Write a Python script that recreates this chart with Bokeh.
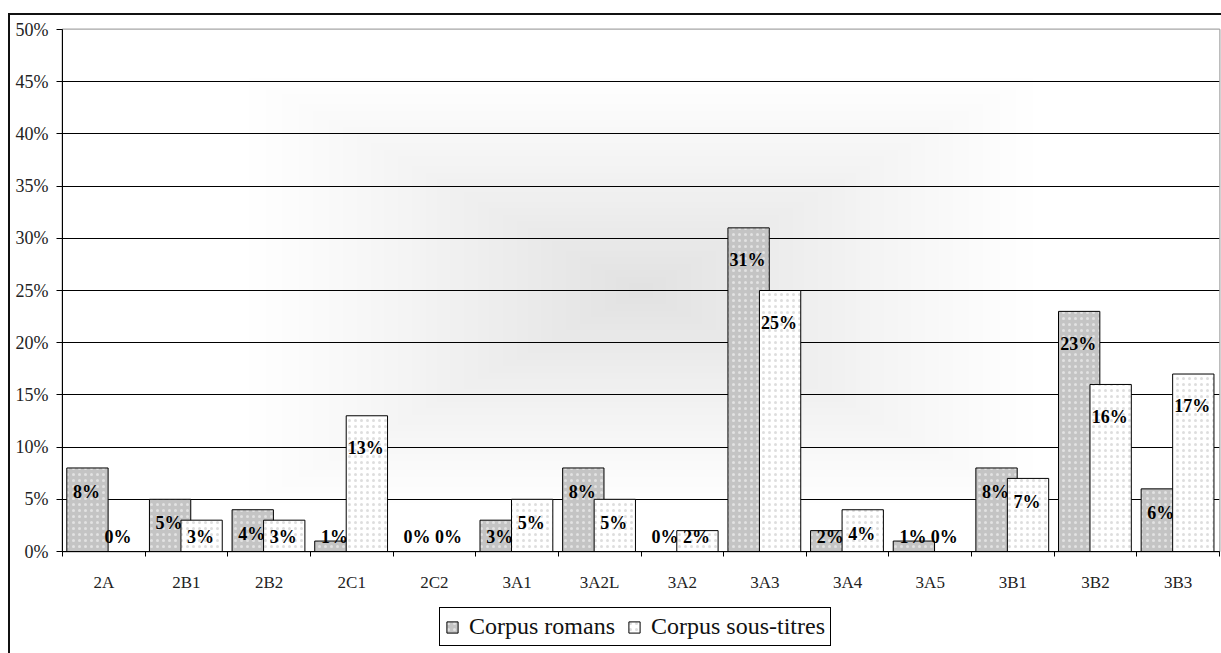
import numpy as np
from bokeh.plotting import figure
from bokeh.layouts import column
from bokeh.models import (Range1d, FixedTicker, PrintfTickFormatter, Legend, LegendItem,
                          ColumnDataSource, LabelSet)
from bokeh.embed import file_html
from bokeh.resources import INLINE

# ---------------- data ----------------
categories = ["2A", "2B1", "2B2", "2C1", "2C2", "3A1", "3A2L", "3A2",
              "3A3", "3A4", "3A5", "3B1", "3B2", "3B3"]
romans = [8, 5, 4, 1, 0, 3, 8, 0, 31, 2, 1, 8, 23, 6]
soustitres = [0, 3, 3, 13, 0, 5, 5, 2, 25, 4, 0, 7, 16, 17]
series_names = ["Corpus romans", "Corpus sous-titres"]
y_ticks = [0, 5, 10, 15, 20, 25, 30, 35, 40, 45, 50]

FONT = "Liberation Serif"
n = len(categories)
idx = np.arange(n)
ymax = y_ticks[-1]

STYLE_R = dict(fill_color="#c4c4c4", line_color="black", line_width=1,
               hatch_pattern="dot", hatch_color="white", hatch_scale=6,
               hatch_weight=0.7, hatch_alpha=0.5)
STYLE_S = dict(fill_color="white", line_color="black", line_width=1,
               hatch_pattern="dot", hatch_color="#c8c8c8", hatch_scale=6,
               hatch_weight=0.7, hatch_alpha=0.6)


def label_pos(vals):
    v = np.asarray(vals, dtype=float)
    off = np.where(v >= 10, 3.1, 2.3)
    return np.maximum(v - off, 1.4)


src = ColumnDataSource(dict(
    cat=categories,
    xr=idx + 0.302,
    xs=idx + 0.683,
    romans=romans,
    soustitres=soustitres,
    lr=label_pos(romans),
    ls=label_pos(soustitres),
    tr=[f"{v}%" for v in romans],
    ts=[f"{v}%" for v in soustitres],
))

p = figure(width=1211, height=588,
           x_range=Range1d(0, n), y_range=Range1d(0, ymax),
           output_backend="svg", toolbar_location=None,
           min_border_left=52, min_border_right=2,
           min_border_top=14, min_border_bottom=52,
           background_fill_color="white", border_fill_color="white")

# background gradient (rectangular, from centre)
H, W = 160, 420
xs_g = np.linspace(0, n, W)
ys_g = np.linspace(0, ymax, H)
X, Y = np.meshgrid(xs_g, ys_g)
dx = np.abs(X - n / 2) * 82.1
dy = np.abs(Y - ymax * 0.5) * 10.44
t = np.clip(1 - np.maximum(dx / 390.0, dy / 215.0), 0, 1)
t = t ** 1.1
g = (255 - 29 * t).astype(np.uint8)
img = np.empty((H, W), dtype=np.uint32)
view = img.view(dtype=np.uint8).reshape((H, W, 4))
view[..., 0] = g
view[..., 1] = g
view[..., 2] = g
view[..., 3] = 255
p.image_rgba(image=[img], x=0, y=0, dw=n, dh=ymax, level="image")

# outline of plot area
p.outline_line_color = "#a6a6a6"
p.outline_line_width = 2

# grid
p.xgrid.visible = False
p.ygrid.ticker = FixedTicker(ticks=y_ticks[1:-1])
p.ygrid.grid_line_color = "black"
p.ygrid.grid_line_width = 1

# bars
r1 = p.vbar(x="xr", top="romans", width=0.5, bottom=0, source=src, **STYLE_R)
r2 = p.vbar(x="xs", top="soustitres", width=0.5, bottom=0, source=src, **STYLE_S)

# value labels
for xcol, ycol, tcol in [("xr", "lr", "tr"), ("xs", "ls", "ts")]:
    p.add_layout(LabelSet(x=xcol, y=ycol, text=tcol, source=src,
                          text_align="center", text_baseline="middle",
                          x_offset=-1,
                          text_font=FONT, text_font_style="bold",
                          text_font_size="18px", text_color="black"))

# y axis
p.yaxis.ticker = FixedTicker(ticks=y_ticks)
p.yaxis.formatter = PrintfTickFormatter(format="%d%%")
p.yaxis.major_tick_out = 6
p.yaxis.major_tick_in = 0
p.yaxis.minor_tick_line_color = None
p.yaxis.axis_line_color = "black"
p.yaxis.major_tick_line_color = "black"
p.yaxis.major_label_text_font = FONT
p.yaxis.major_label_text_font_size = "18px"
p.yaxis.major_label_text_color = "#222222"
p.yaxis.major_label_standoff = 8

# x axis
p.xaxis.ticker = FixedTicker(ticks=list(idx + 0.5), minor_ticks=list(range(0, n + 1)))
p.xaxis.major_label_overrides = {float(i + 0.5): c for i, c in enumerate(categories)}
p.xaxis.major_tick_in = 0
p.xaxis.major_tick_out = 0
p.xaxis.major_tick_line_color = None
p.xaxis.minor_tick_in = 0
p.xaxis.minor_tick_out = 5
p.xaxis.minor_tick_line_color = "black"
p.xaxis.axis_line_color = "black"
p.xaxis.major_label_text_font = FONT
p.xaxis.major_label_text_font_size = "17px"
p.xaxis.major_label_text_color = "#222222"
p.xaxis.major_label_standoff = 16

# ---------------- legend strip ----------------
p2 = figure(width=1211, height=50, x_range=Range1d(0, 1), y_range=Range1d(0, 1),
            output_backend="svg", toolbar_location=None,
            x_axis_location=None, y_axis_location=None, min_border=0,
            outline_line_color=None, background_fill_color="white",
            border_fill_color="white")
p2.grid.visible = False
# legend proxies (kept below the visible range of this strip)
lr1 = p2.vbar(x=[0.5], top=[-1], bottom=-2, width=0.5, **STYLE_R)
lr2 = p2.vbar(x=[0.5], top=[-1], bottom=-2, width=0.5, **STYLE_S)
legend = Legend(items=[LegendItem(label=series_names[0], renderers=[lr1]),
                       LegendItem(label=series_names[1], renderers=[lr2])],
                orientation="horizontal", location=(377, 7),
                border_line_color="black", border_line_width=1, border_line_alpha=1,
                background_fill_color="white", background_fill_alpha=1,
                label_text_font=FONT, label_text_font_size="24px",
                label_text_color="#111111",
                glyph_width=14, glyph_height=14, label_standoff=10,
                spacing=12, padding=5, margin=0)
p2.add_layout(legend, "center")

lay = column(p, p2, spacing=0)
lay.styles = {"border-top": "2px solid #111", "border-left": "2px solid #111",
              "margin-top": "13px", "margin-left": "8px"}

open("out.html", "w").write(file_html(lay, INLINE))
